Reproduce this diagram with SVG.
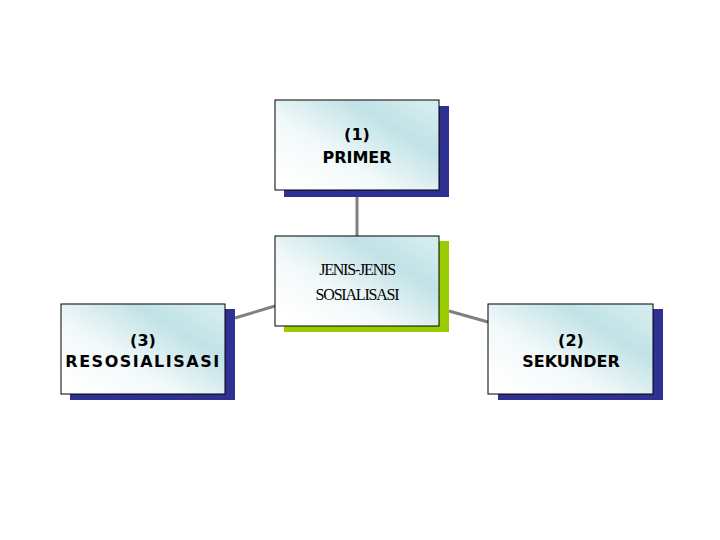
<svg xmlns="http://www.w3.org/2000/svg" width="720" height="540" viewBox="0 0 720 540">
<defs>
<linearGradient id="g" x1="0.05" y1="0.9" x2="0.95" y2="0.1">
<stop offset="0" stop-color="#ffffff"/>
<stop offset="0.35" stop-color="#f3f9fa"/>
<stop offset="0.75" stop-color="#c0e2e6"/>
<stop offset="1" stop-color="#d3ecef"/>
</linearGradient>
</defs>
<style>
.box{fill:url(#g);stroke:#000;stroke-width:1}
.sh{fill:#2e3192}
.shg{fill:#99cc00}
.t{font-family:"DejaVu Sans",sans-serif;font-weight:bold;font-size:16px;text-anchor:middle;fill:#000}
.c{font-family:"Liberation Serif",serif;font-size:16px;text-anchor:middle;fill:#000;letter-spacing:-1.2px}
.ln{stroke:#808080;stroke-width:3;fill:none}
</style>
<rect width="720" height="540" fill="#fff"/>
<g id="connectors">
<line class="ln" x1="357" y1="190" x2="357" y2="236"/>
<line class="ln" x1="235" y1="318" x2="275" y2="306"/>
<line class="ln" x1="449" y1="311" x2="488" y2="322"/>
</g>
<g id="primer">
<rect class="sh" x="284" y="106" width="165" height="91"/>
<rect class="box" x="275" y="100" width="164" height="90"/>
<text class="t" x="357" y="140">(1)</text>
<text class="t" x="357" y="163">PRIMER</text>
</g>
<g id="center">
<rect class="shg" x="284" y="241" width="165" height="91"/>
<rect class="box" x="275" y="236" width="164" height="90"/>
<text class="c" x="357" y="275">JENIS-JENIS</text>
<text class="c" x="357" y="300">SOSIALISASI</text>
</g>
<g id="resosialisasi">
<rect class="sh" x="70" y="309" width="165" height="91"/>
<rect class="box" x="61" y="304" width="164" height="90"/>
<text class="t" x="143" y="346">(3)</text>
<text class="t" x="143" y="367" letter-spacing="1.5">RESOSIALISASI</text>
</g>
<g id="sekunder">
<rect class="sh" x="498" y="309" width="165" height="91"/>
<rect class="box" x="488" y="304" width="165" height="90"/>
<text class="t" x="571" y="346">(2)</text>
<text class="t" x="571" y="367">SEKUNDER</text>
</g>
</svg>
